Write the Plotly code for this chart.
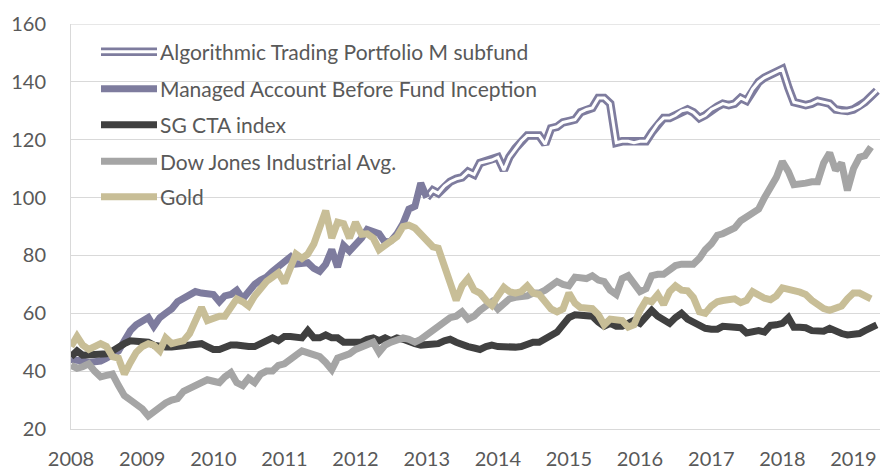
import pandas as pd
import plotly.graph_objects as go

# ---------------- data (monthly, Jan 2008 onwards) ----------------
start_month = "2008-01-01"

managed_account = [
    44, 44, 43.5, 43, 43, 43.5, 44.5, 45.5, 47, 50.5, 54, 56,
    57.5, 58.5, 55.5, 58.5, 60, 61.5, 64, 65, 66, 67.5, 67, 66.5,
    66.5, 64, 66, 66.5, 68, 65, 67.5, 70, 71.5, 72.5, 74.5, 76,
    77.5, 79.5, 77, 77, 77.5, 75.5, 74.5, 77, 82, 76, 83.5, 81.5,
    83.5, 86, 89, 88.5, 87.5, 84.5, 85, 87.5, 91, 96, 97, 105,
    100,
]

algo_fund_start = "2013-01-01"
algo_fund = [
    100, 102.5, 101.5, 104, 105.5, 106.5, 107, 109, 108, 112, 112.5, 113,
    114, 109.5, 114, 117, 119.5, 121.5, 121.5, 121.5, 118.5, 124, 124.5, 126,
    126.5, 127, 129.5, 130.5, 131, 134.5, 134.5, 132.5, 119, 119.5, 119.5, 119,
    119.5, 119.5, 122.5, 125.5, 127.5, 127.5, 128.5, 130, 130.5, 129.5, 127.5, 128.5,
    130.5, 131.5, 132.5, 132, 132.5, 134.5, 133.5, 137.5, 140, 141.5, 142.5, 143.5,
    144.5, 138, 133, 132.5, 132, 132.5, 133.5, 133, 132.5, 130.5, 130, 130,
    130.5, 131.5, 133, 135, 137,
]

sg_cta = [
    45, 47, 45.5, 45.5, 45.5, 45.5, 46, 47, 48.5, 49.5, 50.5, 50.5,
    50, 50, 49, 48.5, 48.3, 48.3, 48.5, 48.5, 49, 49.5, 49.5, 48.5,
    47.5, 47.5, 48.5, 49, 49, 48.5, 48.5, 48.5, 49.5, 51, 51.5, 50.5,
    52, 52, 52, 51.5, 54, 51.5, 51.5, 52.5, 51.5, 51.5, 50, 50,
    50, 50, 51, 51.5, 50.5, 51.5, 50.5, 51.5, 51, 50, 49.5, 49,
    49, 49.5, 49.5, 50.5, 51, 50, 49, 48.5, 48, 47.5, 48.5, 49,
    48.5, 48.3, 48, 48.3, 48.5, 49.5, 50, 50, 51, 52.5, 53.5, 56,
    58.5, 59.5, 59.5, 59, 59, 57, 55.5, 56.5, 55.5, 55.5, 56.5, 57.5,
    56.5, 59, 61, 59, 57.5, 56.5, 58.5, 60, 58, 57, 55.5, 54.8,
    54.5, 54.5, 55.5, 55.5, 55.2, 55, 53.2, 53.8, 54, 53.5, 55.8, 56,
    56.5, 58.5, 55.2, 55.2, 55, 54, 53.8, 53.8, 54.8, 53.8, 53, 52.5,
    52.5, 53, 54, 55, 56,
]

dow_jones = [
    42, 41, 41.5, 42.5, 40, 38, 38.5, 39, 35, 31.5, 30, 28.5,
    27, 24.5, 26, 27.5, 29, 30, 30.5, 33, 34, 35, 35.5, 37,
    36.5, 36, 38, 39.5, 36, 35, 37.5, 36, 39, 40, 40, 42,
    42.5, 44.5, 45.5, 47, 46.5, 46, 45, 43, 40.5, 44.5, 45, 46,
    47.5, 48.5, 49.5, 50, 46.5, 49, 50, 51, 51.5, 51, 50, 51,
    52.5, 54, 56, 57.5, 58.5, 59, 60.5, 58, 59, 61, 62.5, 64,
    61.5, 63.5, 65, 65.5, 65.5, 66, 67, 67, 68, 69.5, 71, 70,
    69.5, 72.5, 72, 72, 73, 71.5, 71, 68, 66.5, 72, 73, 70.5,
    67.5, 68.5, 73, 73.5, 73.5, 75, 76.5, 77, 77, 77, 79, 82,
    84, 87, 87.5, 88.5, 89.5, 92, 93.5, 94.5, 96, 100, 104, 107,
    112.5, 109, 104.5, 104.5, 105, 105.5, 105.5, 112, 115.5, 109.5, 112, 102.5,
    110, 114, 114.5, 117.5,
]

gold = [
    48.5, 52, 49, 47.5, 48.5, 49.5, 48.5, 45, 44.5, 39, 43, 46.5,
    48.5, 49.5, 49, 47, 51.5, 49.5, 50, 50.5, 53, 57, 62, 57.5,
    58.5, 59, 59, 62.5, 65, 64, 62.5, 66, 69, 71, 72.5, 74,
    70.5, 76.5, 80.5, 79, 80.5, 84, 90, 95.5, 86, 91.5, 91, 86,
    91.5, 87.3, 87.5, 86, 82, 83.5, 85, 86.5, 90, 90.5, 89.5, 87.5,
    85.5, 83, 82.5, 77, 71, 64.5, 69.5, 72, 68, 67, 64.5, 62.7,
    66, 69, 67.5, 67, 67.5, 69.5, 67, 66.5, 64, 61.5, 60.5, 61.5,
    67, 63.5, 62, 61.6, 61.6, 59.5, 56, 58, 57.5, 57.5, 55.2, 56,
    61, 64.5, 64, 66.5, 63, 67.5, 69.5, 68, 67.8, 65.5, 60.5, 60,
    62.5, 64, 64.4, 64.7, 65, 63.7, 64.5, 67.5, 66, 65.2, 64.7, 66,
    68.8, 68, 67.8, 67.3, 66.5, 64.5, 63, 61.6, 61, 61.8, 62.5, 65,
    67, 67, 66, 65,
]

year_ticks = [str(y) for y in range(2008, 2020)]
y_ticks = [20, 40, 60, 80, 100, 120, 140, 160]

series_names = [
    "Algorithmic Trading Portfolio M subfund",
    "Managed Account Before Fund Inception",
    "SG CTA index",
    "Dow Jones Industrial Avg.",
    "Gold",
]

# ---------------- styling ----------------
PURPLE = "#7E7C9E"
BLACK = "#404040"
GREY = "#A5A5A5"
GOLD = "#C8BE97"
TEXT = "#595959"
GRID = "#D9D9D9"
FONT = "Lato, Noto Sans, sans-serif"

def months(start, n):
    return pd.date_range(start, periods=n, freq="MS")

fig = go.Figure()

fig.add_trace(go.Scatter(x=months(algo_fund_start, len(algo_fund)), y=algo_fund,
                         mode="lines", line=dict(color=PURPLE, width=8.5),
                         showlegend=False, hoverinfo="skip"))
fig.add_trace(go.Scatter(x=months(algo_fund_start, len(algo_fund)), y=algo_fund,
                         mode="lines", line=dict(color="white", width=3),
                         name=series_names[0], showlegend=False))
fig.add_trace(go.Scatter(x=months(start_month, len(managed_account)), y=managed_account,
                         mode="lines", line=dict(color=PURPLE, width=7),
                         name=series_names[1], showlegend=False))
fig.add_trace(go.Scatter(x=months(start_month, len(sg_cta)), y=sg_cta,
                         mode="lines", line=dict(color=BLACK, width=7),
                         name=series_names[2], showlegend=False))
fig.add_trace(go.Scatter(x=months(start_month, len(dow_jones)), y=dow_jones,
                         mode="lines", line=dict(color=GREY, width=7),
                         name=series_names[3], showlegend=False))
fig.add_trace(go.Scatter(x=months(start_month, len(gold)), y=gold,
                         mode="lines", line=dict(color=GOLD, width=7),
                         name=series_names[4], showlegend=False))

# ---------------- manual legend (inside plot, top-left) ----------------
# page body has an 8px default margin, so the figure is drawn 8px in from the
# window's top-left corner; size the figure so that it fills the rest.
OFF = 8
W, H = 888 - OFF, 473 - OFF
L, R, T, B = 71 - OFF, 3, 20 - OFF, 43
pw, ph = W - L - R, H - T - B

def px_x(px):
    return (px - OFF - L) / pw

def px_y(py):
    return (H - B - (py - OFF)) / ph

legend_rows = [48, 85.5, 122, 159, 195]
legend_styles = [
    [(PURPLE, 8.5), ("white", 3)],
    [(PURPLE, 7)],
    [(BLACK, 7)],
    [(GREY, 7)],
    [(GOLD, 7)],
]
shapes = [
    # top border gridline of the plot area (value 160)
    dict(type="line", xref="paper", yref="y", x0=0, x1=1, y0=y_ticks[-1], y1=y_ticks[-1],
         line=dict(color=GRID, width=1), layer="below"),
]
annotations = []
for name, row, styles in zip(series_names, legend_rows, legend_styles):
    for col, wdt in styles:
        shapes.append(dict(type="line", xref="paper", yref="paper",
                           x0=px_x(101), x1=px_x(157), y0=px_y(row), y1=px_y(row),
                           line=dict(color=col, width=wdt)))
    annotations.append(dict(xref="paper", yref="paper", x=px_x(158), y=px_y(row),
                            xanchor="left", yanchor="middle", showarrow=False,
                            text=name, font=dict(family=FONT, size=21, color=TEXT)))

fig.update_layout(
    width=W, height=H,
    margin=dict(l=L, r=R, t=T, b=B),
    paper_bgcolor="white", plot_bgcolor="white",
    shapes=shapes, annotations=annotations,
    showlegend=False,
    font=dict(family=FONT, size=20, color=TEXT),
)
fig.update_xaxes(
    type="date",
    range=["2008-01-01", "2019-06-12"],
    tickvals=[f"{y}-01-01" for y in year_ticks],
    ticktext=year_ticks,
    showgrid=False, showline=True, linecolor=GRID, linewidth=1,
    ticks="", ticklabelstandoff=12, ticklabeloverflow="allow",
    tickfont=dict(family=FONT, size=20, color=TEXT),
)
fig.update_yaxes(
    range=[19.98, 160.05], tickvals=y_ticks,
    showgrid=True, gridcolor=GRID, gridwidth=1,
    showline=True, linecolor=GRID, linewidth=1,
    zeroline=False, ticks="", ticklabelstandoff=20, ticklabeloverflow="allow",
    tickfont=dict(family=FONT, size=20, color=TEXT),
)

fig.write_html("out.html")
